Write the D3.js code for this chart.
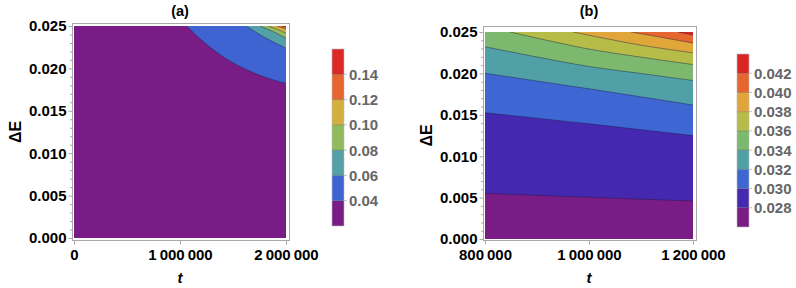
<!DOCTYPE html>
<html><head><meta charset="utf-8">
<script src="https://cdn.jsdelivr.net/npm/d3@7"></script>
<style>
body{margin:0;background:#fff}
svg{display:block}
text{font-family:"Liberation Sans",Arial,sans-serif}
</style>
</head><body>
<svg id="c" width="796" height="288"></svg>
<script>
// ---------------- Data: panel (a) ----------------
const titleA = "(a)";
const xDomainA = [0, 2000000];
const xTicksA = [0, 1000000, 2000000];
const xTickLabelsA = ["0", "1\u2009000\u2009000", "2\u2009000\u2009000"];
const levelsA = [0.04, 0.06, 0.08, 0.10, 0.12, 0.14];
const levelLabelsA = ["0.04", "0.06", "0.08", "0.10", "0.12", "0.14"];
const colorsA = ["#7a1c85", "#3f63d0", "#53a0a6", "#91bb5c", "#d3b03e", "#e5662e", "#dc2826"];
// contour lines [t, ΔE]
const contourA040 = [[1063000,0.02500],[1189000,0.02350],[1314000,0.02220],[1472000,0.02085],[1629000,0.01983],[1786000,0.01903],[1975000,0.01831],[2000000,0.01825]];
const contourA060 = [[1623000,0.02500],[1786000,0.02374],[1900000,0.02300],[2000000,0.02237]];
const contourA080 = [[1755000,0.02500],[1880000,0.02433],[2000000,0.02355]];
const contourA100 = [[1833000,0.02500],[1920000,0.02460],[2000000,0.02414]];
const contourA120 = [[1912000,0.02500],[1960000,0.02482],[2000000,0.02461]];
const contourA140 = [[1959000,0.02500],[2000000,0.02492]];

// ---------------- Data: panel (b) ----------------
const titleB = "(b)";
const xDomainB = [800000, 1200000];
const xTicksB = [800000, 1000000, 1200000];
const xTickLabelsB = ["800\u2009000", "1\u2009000\u2009000", "1\u2009200\u2009000"];
const levelsB = [0.028, 0.030, 0.032, 0.034, 0.036, 0.038, 0.040, 0.042];
const levelLabelsB = ["0.028", "0.030", "0.032", "0.034", "0.036", "0.038", "0.040", "0.042"];
const colorsB = ["#7a1c86", "#4428af", "#3f67d3", "#52a0a7", "#7cb96e", "#b5bd48", "#e0a63a", "#e5672f", "#db2525"];
const contourB028 = [[800000,0.00552],[1000000,0.00504],[1200000,0.00459]];
const contourB030 = [[800000,0.01525],[1000000,0.01391],[1200000,0.01248]];
const contourB032 = [[800000,0.02001],[1000000,0.01814],[1200000,0.01618]];
const contourB034 = [[800000,0.02322],[900000,0.02198],[1000000,0.02083],[1100000,0.01999],[1200000,0.01914]];
const contourB036 = [[848100,0.02500],[992300,0.02303],[1098000,0.02198],[1200000,0.02107]];
const contourB038 = [[969200,0.02500],[1098000,0.02343],[1200000,0.02249]];
const contourB040 = [[1080800,0.02500],[1140000,0.02435],[1200000,0.02367]];
const contourB042 = [[1171200,0.02500],[1200000,0.02464]];

// ---------------- Shared ----------------
const yDomain = [0, 0.025];
const yTicks = [0, 0.005, 0.010, 0.015, 0.020, 0.025];
const yTickLabels = ["0.000", "0.005", "0.010", "0.015", "0.020", "0.025"];
const yMinorTicks = d3.range(0, 26).map(i => i / 1000).filter(v => Math.round(v * 1000) % 5 !== 0);
const xLabel = "t";
const yLabel = "\u0394E";

const svg = d3.select("#c");

function drawPanel(cfg) {
  const x = d3.scaleLinear().domain(cfg.xDomain).range([cfg.px0, cfg.px1]);
  const y = d3.scaleLinear().domain(yDomain).range([cfg.py0, cfg.py1]);
  const clipId = "clip" + cfg.id;
  svg.append("clipPath").attr("id", clipId).append("rect")
    .attr("x", cfg.px0).attr("y", cfg.py1)
    .attr("width", cfg.px1 - cfg.px0).attr("height", cfg.py0 - cfg.py1);
  const plot = svg.append("g").attr("clip-path", `url(#${clipId})`);
  plot.append("rect")
    .attr("x", cfg.px0).attr("y", cfg.py1)
    .attr("width", cfg.px1 - cfg.px0).attr("height", cfg.py0 - cfg.py1)
    .attr("fill", cfg.colors[0]);
  const line = d3.line().x(d => x(d[0])).y(d => y(d[1])).curve(d3.curveCatmullRom.alpha(0.5));
  const xMax = cfg.xDomain[1], yMax = yDomain[1];
  cfg.contours.forEach((c, i) => {
    const x0 = x(c[0][0]) - (c[0][0] === cfg.xDomain[0] ? 2 : 0);
    const d = line(c) + `L${x(xMax) + 2},${y(c[c.length - 1][1])}L${x(xMax) + 2},${y(yMax) - 2}L${x0},${y(yMax) - 2}L${x0},${y(c[0][1])}Z`;
    plot.append("path").attr("d", d).attr("fill", cfg.colors[i + 1]);
  });
  cfg.contours.forEach(c => {
    plot.append("path").attr("d", line(c)).attr("fill", "none")
      .attr("stroke", "#1a1a40").attr("stroke-opacity", 0.55).attr("stroke-width", 0.8);
  });

  // frame
  svg.append("rect")
    .attr("x", cfg.fx0 + 0.5).attr("y", cfg.fy0 + 0.5)
    .attr("width", cfg.fx1 - cfg.fx0).attr("height", cfg.fy1 - cfg.fy0)
    .attr("fill", "none").attr("stroke", "#a8a8a8").attr("stroke-width", 1);

  // y axis
  const yAxis = svg.append("g").attr("transform", `translate(${cfg.fx0 + 0.5},0)`)
    .call(d3.axisLeft(y).tickValues(yTicks).tickSize(4).tickPadding(2)
      .tickFormat((d, i) => yTickLabels[i]));
  const yMinor = svg.append("g").attr("transform", `translate(${cfg.fx0 + 0.5},0)`)
    .call(d3.axisLeft(y).tickValues(yMinorTicks).tickSize(2.5).tickFormat(""));
  // x axis
  const xAxis = svg.append("g").attr("transform", `translate(0,${cfg.fy1 + 0.5})`)
    .call(d3.axisBottom(x).tickValues(cfg.xTicks).tickSize(4).tickPadding(5)
      .tickFormat((d, i) => cfg.xTickLabels[i]));
  [yAxis, yMinor, xAxis].forEach(a => {
    a.select(".domain").remove();
    a.selectAll(".tick line").attr("stroke", "#a8a8a8");
    a.selectAll(".tick text").attr("font-family", "Liberation Sans, Arial, sans-serif")
      .attr("font-size", 15).attr("font-weight", "bold").attr("fill", "#000");
  });

  // title
  svg.append("text").attr("x", (cfg.px0 + cfg.px1) / 2).attr("y", cfg.titleY)
    .attr("text-anchor", "middle").attr("font-size", 14.5).attr("font-weight", "bold").text(cfg.title);
  // axis labels
  svg.append("text").attr("x", (cfg.px0 + cfg.px1) / 2).attr("y", 283)
    .attr("text-anchor", "middle").attr("font-size", 15).attr("font-weight", "bold")
    .attr("font-style", "italic").text(xLabel);
  svg.append("text").attr("transform", `translate(${cfg.ylabX},${(cfg.py0 + cfg.py1) / 2}) rotate(-90)`)
    .attr("text-anchor", "middle").attr("font-size", 16).attr("font-weight", "bold").text(yLabel);

  // colour bar
  const n = cfg.colors.length;
  const cb = d3.scaleLinear().domain([0, n]).range([cfg.cbBottom, cfg.cbTop]);
  const bar = svg.append("g");
  bar.selectAll("rect.band").data(cfg.colors).join("rect").attr("class", "band")
    .attr("x", cfg.cbX).attr("width", 12)
    .attr("y", (d, i) => cb(i + 1)).attr("height", (d, i) => cb(i) - cb(i + 1))
    .attr("fill", d => d);
  bar.selectAll("line.sep").data(cfg.levels).join("line").attr("class", "sep")
    .attr("x1", cfg.cbX).attr("x2", cfg.cbX + 15)
    .attr("y1", (d, i) => cb(i + 1)).attr("y2", (d, i) => cb(i + 1))
    .attr("stroke", "#555").attr("stroke-opacity", 0.45).attr("stroke-width", 0.8);
  bar.append("rect").attr("x", cfg.cbX).attr("y", cfg.cbTop).attr("width", 12)
    .attr("height", cfg.cbBottom - cfg.cbTop).attr("fill", "none")
    .attr("stroke", "#bbb").attr("stroke-width", 0.6);
  bar.selectAll("text").data(cfg.levelLabels).join("text")
    .attr("x", cfg.cbX + 17).attr("y", (d, i) => cb(i + 1)).attr("dy", "0.36em")
    .attr("font-size", 15).attr("font-weight", "bold").attr("fill", "#666").text(d => d);
}

drawPanel({
  id: "a", title: titleA, xDomain: xDomainA, xTicks: xTicksA, xTickLabels: xTickLabelsA,
  contours: [contourA040, contourA060, contourA080, contourA100, contourA120, contourA140],
  colors: colorsA, levels: levelsA, levelLabels: levelLabelsA,
  px0: 74, px1: 286, py0: 238, py1: 26,
  fx0: 72, fx1: 289, fy0: 23, fy1: 240,
  titleY: 16, ylabX: 21,
  cbX: 332, cbTop: 49, cbBottom: 226
});
drawPanel({
  id: "b", title: titleB, xDomain: xDomainB, xTicks: xTicksB, xTickLabels: xTickLabelsB,
  contours: [contourB028, contourB030, contourB032, contourB034, contourB036, contourB038, contourB040, contourB042],
  colors: colorsB, levels: levelsB, levelLabels: levelLabelsB,
  px0: 485, px1: 693, py0: 239, py1: 32,
  fx0: 483, fx1: 696, fy0: 26, fy1: 240,
  titleY: 16, ylabX: 432,
  cbX: 737, cbTop: 54, cbBottom: 227
});
</script>
</body></html>
